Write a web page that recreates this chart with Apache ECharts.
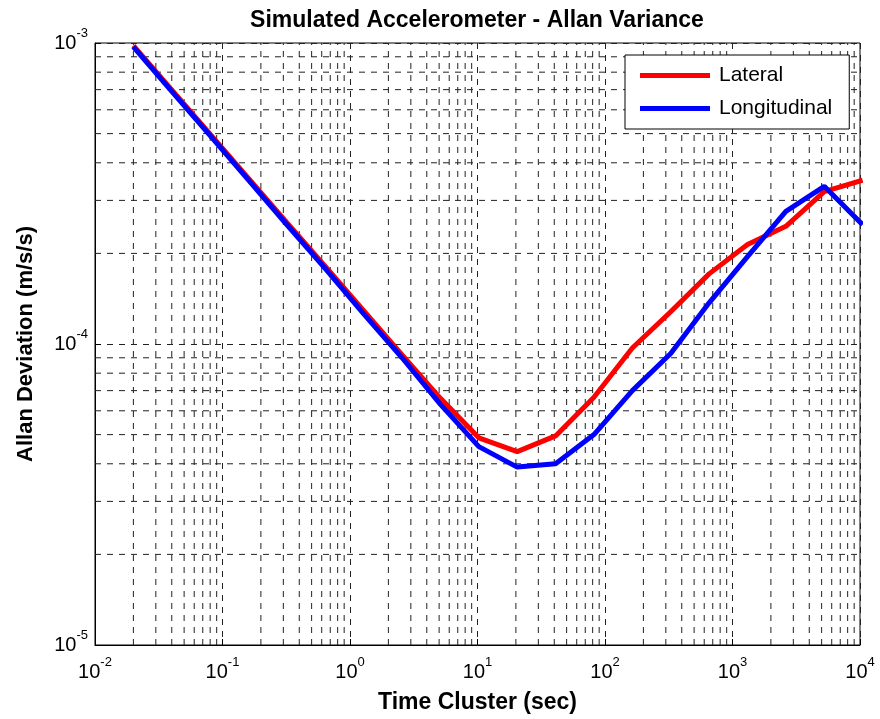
<!DOCTYPE html>
<html><head><meta charset="utf-8">
<script src="https://cdn.jsdelivr.net/npm/echarts@6/dist/echarts.min.js"></script>
<style>html,body{margin:0;padding:0;background:#fff}#c{width:880px;height:719px}</style>
</head><body><div id="c"></div>
<script>
// Data
const tau = [0.02,0.04,0.08,0.16,0.32,0.64,1.28,2.56,5.12,10.24,20.48,40.96,81.92,163.84,327.68,655.36,1310.72,2621.44,5242.88,10485.76];
const lateral = [9.8e-4,6.99e-4,4.98e-4,3.55e-4,2.53e-4,1.81e-4,1.29e-4,9.2e-5,6.6e-5,4.88e-5,4.39e-5,4.95e-5,6.65e-5,9.7e-5,1.28e-4,1.71e-4,2.14e-4,2.46e-4,3.21e-4,3.50e-4];
const longitudinal = [9.7e-4,6.91e-4,4.92e-4,3.50e-4,2.49e-4,1.78e-4,1.26e-4,9.0e-5,6.3e-5,4.56e-5,3.90e-5,4.0e-5,5.0e-5,7.0e-5,9.3e-5,1.37e-4,1.95e-4,2.76e-4,3.34e-4,2.49e-4];
const xDecades = [-2,-1,0,1,2,3];
const yDecades = [-5,-4];
const xRange = [0.01, 10000];
const yRange = [1e-5, 1e-3];
const titleText = 'Simulated Accelerometer - Allan Variance';
const xName = 'Time Cluster (sec)';
const yName = 'Allan Deviation (m/s/s)';
const seriesNames = ['Lateral','Longitudinal'];

const minorOf = decs => { const r=[]; decs.forEach(d=>{ for(let k=2;k<=9;k++) r.push(k*Math.pow(10,d)); }); return r; };
const minorX = minorOf(xDecades), minorY = minorOf(yDecades);

const gridLine = {type:[6,6], color:'#222', width:1};
const FONT = 'Liberation Sans, Arial, sans-serif';
const expFmt = v => '{b|10}{s|' + Math.round(Math.log10(v)) + '}';
const richLab = { b:{fontSize:20, lineHeight:32, fontFamily:FONT, color:'#000'}, s:{fontSize:13, lineHeight:13, verticalAlign:'top', fontFamily:FONT, color:'#000'} };

const gridSeries = [];
minorX.forEach(v => gridSeries.push({type:'line', data:[[v,yRange[0]],[v,yRange[1]]], silent:true, symbol:'none', lineStyle:gridLine, z:1, legendHoverLink:false, emphasis:{disabled:true}, tooltip:{show:false}}));
minorY.forEach(v => gridSeries.push({type:'line', data:[[xRange[0],v],[xRange[1],v]], silent:true, symbol:'none', lineStyle:gridLine, z:1, legendHoverLink:false, emphasis:{disabled:true}, tooltip:{show:false}}));

const chart = echarts.init(document.getElementById('c'), null, {renderer:'canvas'});
chart.setOption({
  animation:false,
  backgroundColor:'#fff',
  title:{text:titleText, left:472, top:4, textAlign:'center', textStyle:{fontFamily:FONT, fontWeight:'bold', fontSize:23, color:'#000'}},
  grid:{left:95, top:43, width:765, height:602, show:true, borderColor:'#000', borderWidth:1, backgroundColor:'#fff'},
  legend:{orient:'vertical', left:625, top:55, padding:[10,17,10,15], itemGap:12, itemWidth:70, itemHeight:5, icon:'rect',
    borderColor:'#000', borderWidth:1, backgroundColor:'#fff', textStyle:{fontFamily:FONT, fontSize:21, color:'#000', padding:[0,0,0,4]}, data:seriesNames},
  xAxis:{type:'log', logBase:10, min:xRange[0], max:xRange[1], splitNumber:6,
    name:xName, nameLocation:'middle', nameGap:46, nameTextStyle:{fontFamily:FONT, fontWeight:'bold', fontSize:23, color:'#000'},
    axisLine:{show:true, lineStyle:{color:'#000'}}, axisTick:{show:true, inside:true, length:6, lineStyle:{color:'#000'}},
    axisLabel:{formatter:expFmt, rich:richLab, margin:11, showMinLabel:true, showMaxLabel:true},
    splitLine:{show:true, lineStyle:gridLine}},
  yAxis:{type:'log', logBase:10, min:yRange[0], max:yRange[1], splitNumber:2,
    name:yName, nameLocation:'middle', nameGap:58, nameTextStyle:{fontFamily:FONT, fontWeight:'bold', fontSize:22, color:'#000'},
    axisLine:{show:true, lineStyle:{color:'#000'}}, axisTick:{show:true, inside:true, length:6, lineStyle:{color:'#000'}},
    axisLabel:{formatter:expFmt, rich:richLab, margin:7, showMinLabel:true, showMaxLabel:true},
    splitLine:{show:true, lineStyle:gridLine}},
  series: gridSeries.concat([
    {type:'line', name:seriesNames[0], data:tau.map((t,i)=>[t,lateral[i]]), showSymbol:false, symbol:'none', color:'#ff0000', lineStyle:{width:5, color:'#ff0000'}, itemStyle:{color:'#ff0000'}, clip:true, z:3},
    {type:'line', name:seriesNames[1], data:tau.map((t,i)=>[t,longitudinal[i]]), showSymbol:false, symbol:'none', color:'#0000ff', lineStyle:{width:5, color:'#0000ff'}, itemStyle:{color:'#0000ff'}, clip:true, z:4}
  ])
});
</script></body></html>
